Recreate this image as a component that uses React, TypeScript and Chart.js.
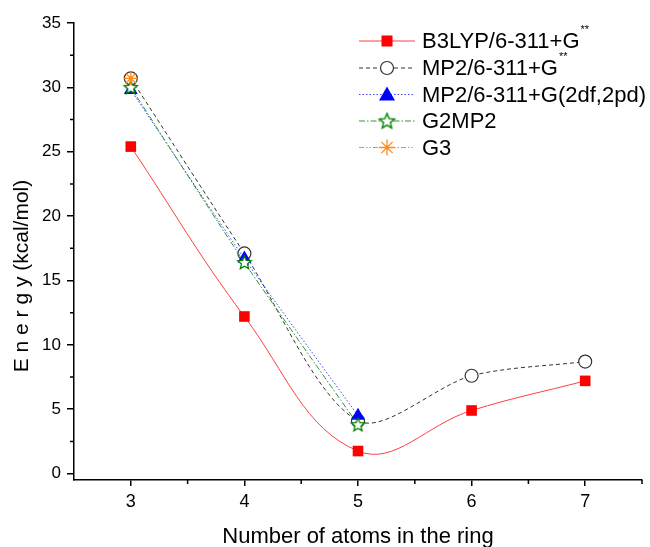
import React, { useEffect, useRef } from 'react';
import { Chart, registerables } from 'chart.js';
Chart.register(...registerables);

const atoms = [3, 4, 5, 6, 7];
const b3lyp = [25.4, 12.2, 1.75, 4.9, 7.2];
const mp2 = [30.7, 17.1, 4.1, 7.6, 8.7];
const mp2Big = [29.8, 16.7, 4.5];
const g2mp2 = [30.0, 16.4, 3.8];
const g3 = [30.7];

const xTickValues = [3, 4, 5, 6, 7];
const xMinorValues = [3.5, 4.5, 5.5, 6.5, 7.5];
const yTickValues = [0, 5, 10, 15, 20, 25, 30, 35];
const yMinorValues = [2.5, 7.5, 12.5, 17.5, 22.5, 27.5, 32.5];

const seriesLabels = ['B3LYP/6-311+G', 'MP2/6-311+G', 'MP2/6-311+G(2df,2pd)', 'G2MP2', 'G3'];
const seriesSup = ['**', '**', '', '', ''];
const xTitle = 'Number of atoms in the ring';
const yTitle = 'E n e r g y (kcal/mol)';

const FONT = '"Liberation Sans", Arial, sans-serif';

function pts(vals: number[]) {
  return vals.map((v, i) => ({ x: atoms[i], y: v }));
}

function makeStar(r: number, stroke: string, lw: number) {
  const size = Math.ceil(2 * r + lw * 2 + 2);
  const c = document.createElement('canvas');
  c.width = size;
  c.height = size;
  const ctx = c.getContext('2d')!;
  const cx = size / 2, cy = size / 2 + 0.5;
  ctx.beginPath();
  for (let i = 0; i < 10; i++) {
    const ang = -Math.PI / 2 + (i * Math.PI) / 5;
    const rr = i % 2 === 0 ? r : r * 0.45;
    ctx.lineTo(cx + rr * Math.cos(ang), cy + rr * Math.sin(ang));
  }
  ctx.closePath();
  ctx.fillStyle = '#fff';
  ctx.fill();
  ctx.strokeStyle = stroke;
  ctx.lineWidth = lw;
  ctx.stroke();
  return c;
}

const colors = {
  red: '#ff0000', redLine: '#ff4040',
  gray: '#333333',
  blue: '#0000ff', blueLine: '#4444ff',
  green: '#008000', greenLine: '#2e9a2e',
  orange: '#ff8c1a',
};

const dashes = [[], [4, 3], [1.5, 2], [6, 2, 1.5, 2], [5, 2, 1.5, 2, 1.5, 2]];
const lineColors = [colors.redLine, colors.gray, colors.blueLine, colors.greenLine, colors.orange];

function drawAsterisk(ctx: CanvasRenderingContext2D, x: number, y: number, r: number, color: string) {
  ctx.save();
  ctx.setLineDash([]);
  ctx.strokeStyle = color;
  ctx.lineWidth = 1.3;
  ctx.beginPath();
  for (let i = 0; i < 4; i++) {
    const a = (i * Math.PI) / 4;
    ctx.moveTo(x - r * Math.cos(a), y - r * Math.sin(a));
    ctx.lineTo(x + r * Math.cos(a), y + r * Math.sin(a));
  }
  ctx.stroke();
  ctx.fillStyle = color;
  ctx.beginPath();
  ctx.arc(x, y, 2, 0, Math.PI * 2);
  ctx.fill();
  ctx.restore();
}

export default function App() {
  const ref = useRef<HTMLCanvasElement | null>(null);
  useEffect(() => {
    const canvas = ref.current!;
    const starImg = makeStar(7, colors.green, 1.3);
    const starLegend = makeStar(8, colors.green, 1.4);

    const asteriskPlugin = {
      id: 'asteriskPts',
      afterDatasetsDraw(chart: any) {
        const meta = chart.getDatasetMeta(4);
        const ctx = chart.ctx;
        meta.data.forEach((p: any) => drawAsterisk(ctx, p.x, p.y, 7, colors.orange));
      },
    };

    const minorTicks = {
      id: 'minorTicks',
      afterDraw(chart: any) {
        const { ctx, scales, chartArea } = chart;
        ctx.save();
        ctx.strokeStyle = '#000';
        ctx.lineWidth = 1.5;
        ctx.setLineDash([]);
        ctx.beginPath();
        xMinorValues.forEach((v) => {
          const px = scales.x.getPixelForValue(v);
          ctx.moveTo(px, chartArea.bottom);
          ctx.lineTo(px, chartArea.bottom + 4);
        });
        yMinorValues.forEach((v) => {
          const py = scales.y.getPixelForValue(v);
          ctx.moveTo(chartArea.left, py);
          ctx.lineTo(chartArea.left - 4, py);
        });
        ctx.stroke();
        ctx.restore();
      },
    };

    const yTitlePlugin = {
      id: 'yTitle',
      afterDraw(chart: any) {
        const ctx = chart.ctx;
        ctx.save();
        ctx.translate(22.6, 276);
        ctx.rotate(-Math.PI / 2);
        ctx.font = `21px ${FONT}`;
        ctx.fillStyle = '#000';
        ctx.textAlign = 'center';
        ctx.textBaseline = 'middle';
        ctx.fillText(yTitle, 0, 0);
        ctx.restore();
      },
    };

    const legendPlugin = {
      id: 'customLegend',
      afterDraw(chart: any) {
        const ctx = chart.ctx;
        const x0 = 359, x1 = 415, mx = 387, tx = 422;
        const rows = [41, 68, 94.5, 121, 147.5];
        ctx.save();
        seriesLabels.forEach((label, i) => {
          const y = rows[i];
          ctx.setLineDash(dashes[i]);
          ctx.strokeStyle = lineColors[i];
          ctx.lineWidth = 1;
          ctx.beginPath();
          ctx.moveTo(x0, y);
          ctx.lineTo(x1, y);
          ctx.stroke();
          ctx.setLineDash([]);
          if (i === 0) {
            ctx.fillStyle = colors.red;
            ctx.fillRect(mx - 5.5, y - 5.5, 11, 11);
          } else if (i === 1) {
            ctx.beginPath();
            ctx.arc(mx, y, 6.5, 0, Math.PI * 2);
            ctx.fillStyle = '#fff';
            ctx.fill();
            ctx.strokeStyle = colors.gray;
            ctx.lineWidth = 1.2;
            ctx.stroke();
          } else if (i === 2) {
            ctx.beginPath();
            ctx.moveTo(mx, y - 8);
            ctx.lineTo(mx + 8, y + 6);
            ctx.lineTo(mx - 8, y + 6);
            ctx.closePath();
            ctx.fillStyle = colors.blue;
            ctx.fill();
          } else if (i === 3) {
            ctx.drawImage(starLegend, mx - starLegend.width / 2, y - starLegend.height / 2);
          } else {
            drawAsterisk(ctx, mx, y, 8, colors.orange);
          }
          ctx.font = `22px ${FONT}`;
          ctx.fillStyle = '#000';
          ctx.textAlign = 'left';
          ctx.textBaseline = 'middle';
          ctx.fillText(label, tx, y + 1);
          if (seriesSup[i]) {
            const w = ctx.measureText(label).width;
            ctx.font = `11px ${FONT}`;
            ctx.fillText(seriesSup[i], tx + w + 1, y - 11);
          }
        });
        ctx.restore();
      },
    };

    const base = { showLine: true, borderWidth: 1, fill: false };
    const chart = new Chart(canvas, {
      type: 'scatter',
      data: {
        datasets: [
          {
            ...base, label: seriesLabels[0], data: pts(b3lyp), order: 4, tension: 0.4,
            borderColor: colors.redLine, pointStyle: 'rect', pointRadius: 7.5,
            pointBackgroundColor: colors.red, pointBorderColor: colors.red, pointBorderWidth: 0,
          },
          {
            ...base, label: seriesLabels[1], data: pts(mp2), order: 3, tension: 0.3,
            borderColor: colors.gray, borderDash: dashes[1], pointStyle: 'circle', pointRadius: 6.5,
            pointBackgroundColor: '#fff', pointBorderColor: colors.gray, pointBorderWidth: 1.2,
          },
          {
            ...base, label: seriesLabels[2], data: pts(mp2Big), order: 2, tension: 0.2,
            borderColor: colors.blueLine, borderDash: dashes[2], pointStyle: 'triangle', pointRadius: 8,
            pointBackgroundColor: colors.blue, pointBorderColor: colors.blue, pointBorderWidth: 0,
          },
          {
            ...base, label: seriesLabels[3], data: pts(g2mp2), order: 1, tension: 0.2,
            borderColor: colors.greenLine, borderDash: dashes[3], pointStyle: starImg as any, pointRadius: 7,
          },
          {
            ...base, label: seriesLabels[4], data: pts(g3), order: 0, tension: 0.2,
            borderColor: colors.orange, borderDash: dashes[4], pointRadius: 0,
          },
        ] as any,
      },
      options: {
        animation: false,
        responsive: false,
        maintainAspectRatio: false,
        layout: { padding: { top: 23, right: 7, left: 0, bottom: 0 } },
        plugins: { legend: { display: false }, tooltip: { enabled: false } },
        scales: {
          x: {
            type: 'linear', min: 2.5, max: 7.5,
            afterBuildTicks: (s: any) => { s.ticks = xTickValues.map((v) => ({ value: v })); },
            afterFit: (s: any) => { s.height = 67; },
            ticks: { font: { family: FONT, size: 18 }, color: '#000', padding: 5 },
            grid: { drawOnChartArea: false, drawTicks: true, tickLength: 6, color: '#000', lineWidth: 1.5 },
            border: { color: '#000', width: 1.5 },
            title: { display: true, text: xTitle, color: '#000', font: { family: FONT, size: 22, lineHeight: 0.9 }, padding: { top: 0, bottom: 0 } },
          },
          y: {
            type: 'linear', min: -0.5, max: 35,
            afterBuildTicks: (s: any) => { s.ticks = yTickValues.map((v) => ({ value: v })); },
            afterFit: (s: any) => { s.width = 74; },
            ticks: { font: { family: FONT, size: 17 }, color: '#000', padding: 6 },
            grid: { drawOnChartArea: false, drawTicks: true, tickLength: 7, color: '#000', lineWidth: 1.5 },
            border: { color: '#000', width: 1.5 },
          },
        },
      } as any,
      plugins: [asteriskPlugin, minorTicks, yTitlePlugin, legendPlugin],
    });
    return () => chart.destroy();
  }, []);

  return (
    <div style={{ position: 'fixed', left: 0, top: 0, width: 650, height: 547, background: '#fff' }}>
      <canvas ref={ref} width={650} height={547} style={{ width: 650, height: 547, display: 'block' }} />
    </div>
  );
}
